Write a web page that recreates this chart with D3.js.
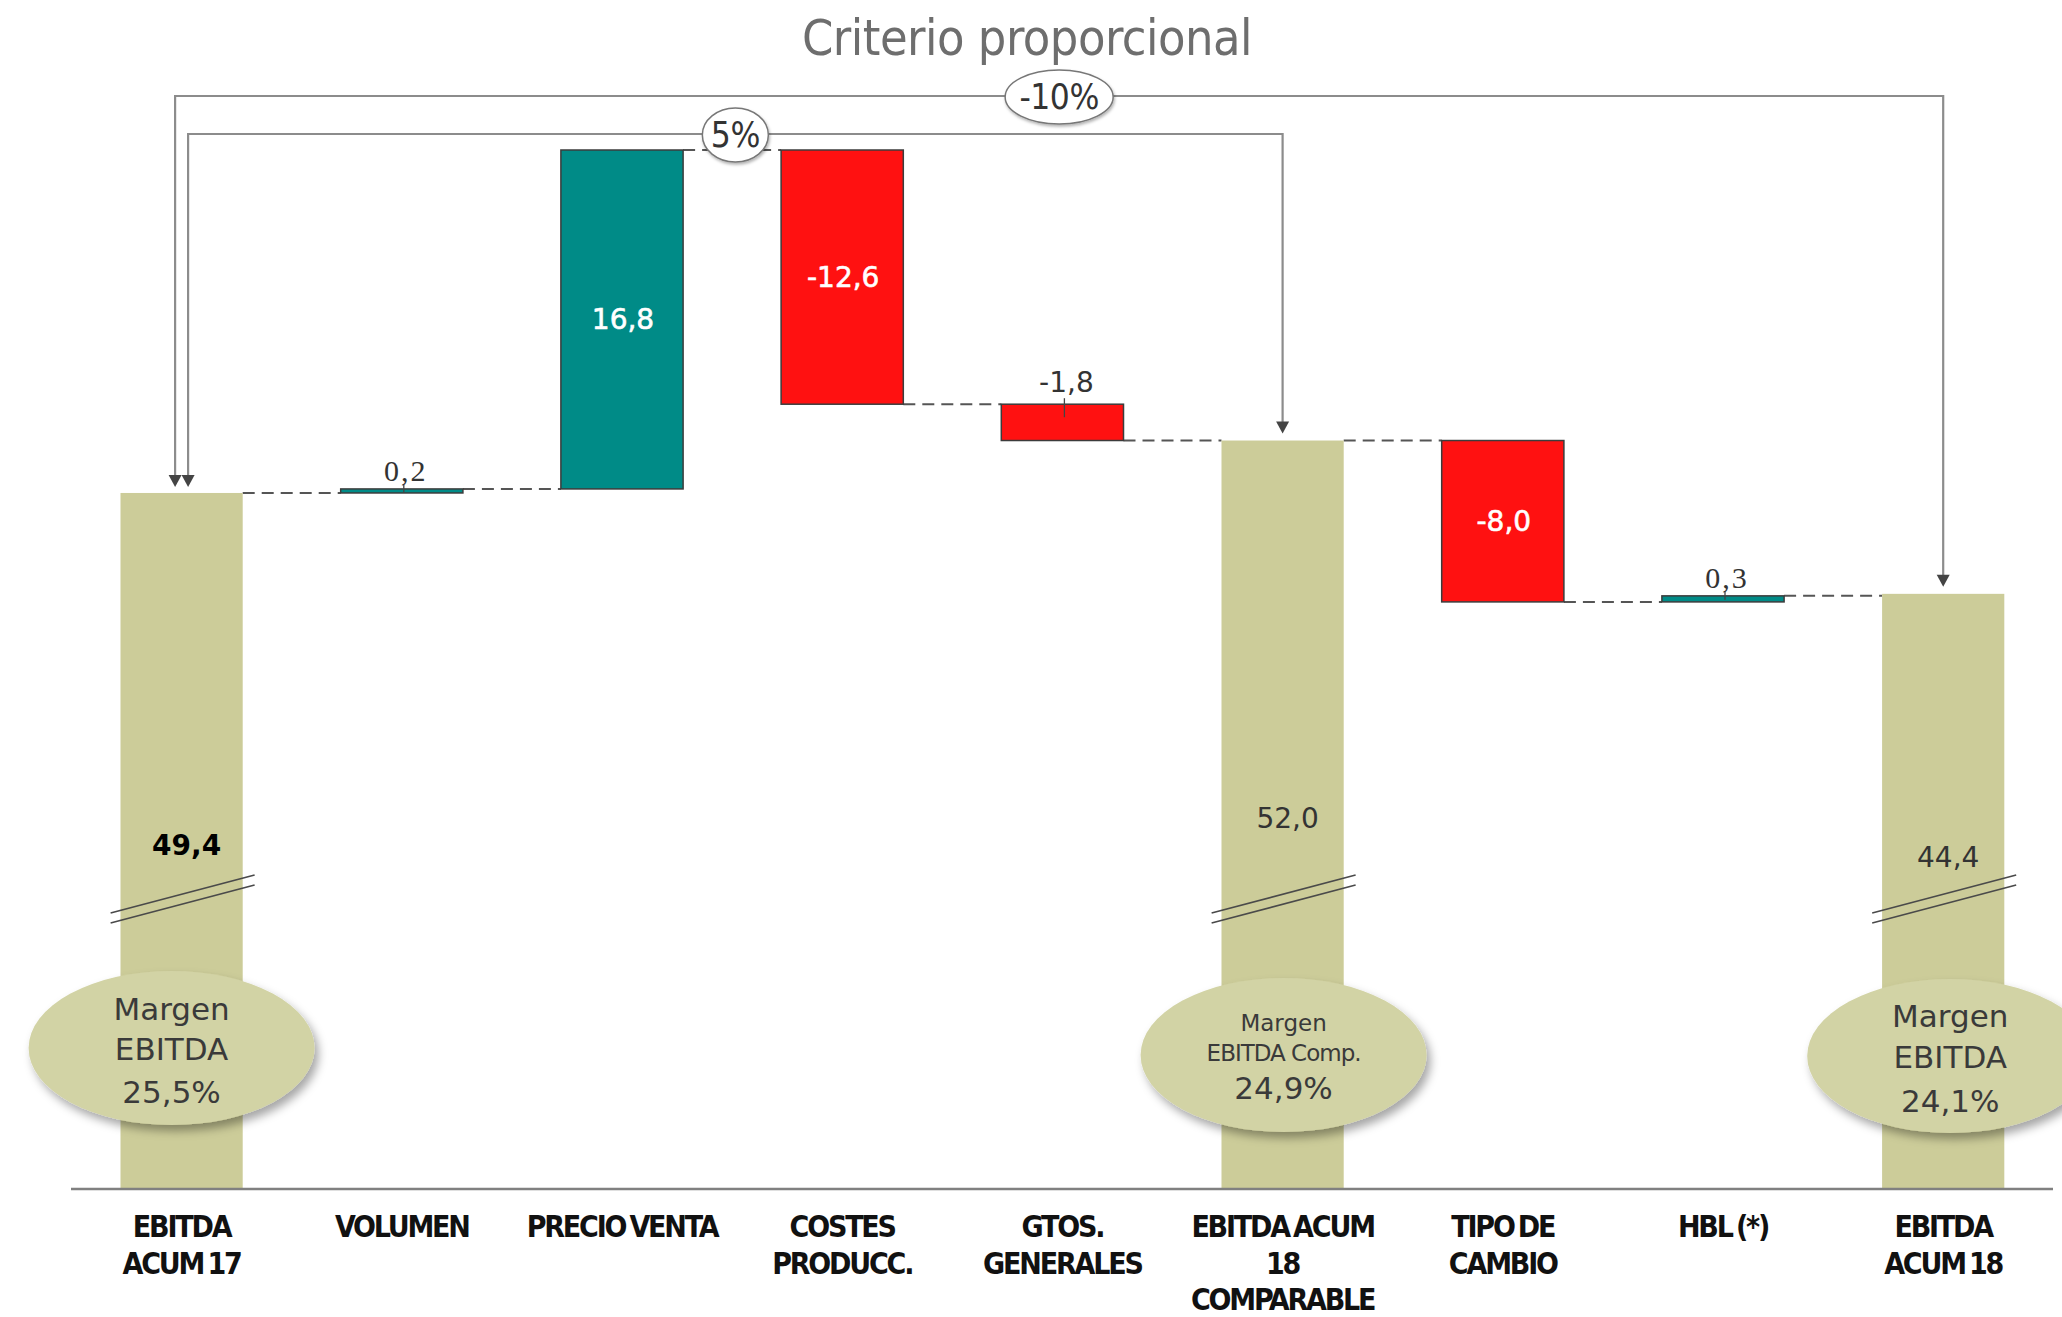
<!DOCTYPE html>
<html><head><meta charset="utf-8">
<script src="https://cdn.jsdelivr.net/npm/d3@7"></script>
<style>html,body{margin:0;padding:0;background:#fff;overflow:hidden}</style>
</head><body>
<svg id="chart" width="2062" height="1317"></svg>
<script>
// ---------- DATA ----------
const title = "Criterio proporcional";
const categories = [
  ["EBITDA", "ACUM 17"],
  ["VOLUMEN"],
  ["PRECIO VENTA"],
  ["COSTES", "PRODUCC."],
  ["GTOS.", "GENERALES"],
  ["EBITDA ACUM", "18", "COMPARABLE"],
  ["TIPO DE", "CAMBIO"],
  ["HBL (*)"],
  ["EBITDA", "ACUM 18"]
];
const values = [49.4, 0.2, 16.8, -12.6, -1.8, 52.0, -8.0, 0.3, 44.4];
const kinds = ["total", "delta", "delta", "delta", "delta", "total", "delta", "delta", "total"];
const valueLabels = ["49,4", "0,2", "16,8", "-12,6", "-1,8", "52,0", "-8,0", "0,3", "44,4"];
const marginTexts = [
  ["Margen", "EBITDA", "25,5%"],
  ["Margen", "EBITDA Comp.", "24,9%"],
  ["Margen", "EBITDA", "24,1%"]
];
const bracketFrom = [0, 0];
const bracketTo = [5, 8];
const bracketLabels = ["5%", "-10%"];

// ---------- LAYOUT ----------
const W = 2062, H = 1317;
const baseY = 1189;
const svg = d3.select("#chart");
const defs = svg.append("defs");
const sh = defs.append("filter").attr("id", "shadow").attr("x", "-20%").attr("y", "-20%").attr("width", "140%").attr("height", "150%");
sh.append("feDropShadow").attr("dx", 4).attr("dy", 6).attr("stdDeviation", 5).attr("flood-color", "#000").attr("flood-opacity", 0.35);
const sh2 = defs.append("filter").attr("id", "shadow2").attr("x", "-20%").attr("y", "-20%").attr("width", "140%").attr("height", "150%");
sh2.append("feDropShadow").attr("dx", 1).attr("dy", 2).attr("stdDeviation", 1.5).attr("flood-color", "#000").attr("flood-opacity", 0.3);

const x = d3.scaleBand().domain(d3.range(categories.length))
  .range([71.5, 2053.3]).paddingInner(0.445).paddingOuter(0.2225);
const y = d3.scaleLinear().domain([14.9, 66.4]).range([baseY, 150]);
const bw = x.bandwidth();
const cx = i => x(i) + bw / 2;

const COLORS = { total: "#cccc99", pos: "#008b87", neg: "#ff1111" };
const narrow = "'Liberation Sans Narrow', 'Arial Narrow', 'DejaVu Sans Condensed', sans-serif";
const wide = "'DejaVu Sans', Verdana, sans-serif";

// compute waterfall
let running = 0;
const bars = values.map((v, i) => {
  if (kinds[i] === "total") { running = v; return { i, lo: y.domain()[0], hi: v, level: v, type: "total", v }; }
  const s = running; running += v;
  return { i, lo: Math.min(s, running), hi: Math.max(s, running), level: running, type: v >= 0 ? "pos" : "neg", v };
});

// title
svg.append("text").attr("x", 1027).attr("y", 55).attr("text-anchor", "middle")
  .attr("font-family", narrow).attr("font-size", 50).attr("letter-spacing", -0.5)
  .attr("fill", "#6e6e6e").text(title);

// connectors
const conn = svg.append("g");
for (let i = 0; i < bars.length - 1; i++) {
  conn.append("line").attr("x1", x(i) + bw).attr("x2", x(i + 1))
    .attr("y1", y(bars[i].level)).attr("y2", y(bars[i].level))
    .attr("stroke", "#555").attr("stroke-width", 2).attr("stroke-dasharray", "12,7");
}

// bars
svg.append("g").selectAll("rect").data(bars).join("rect")
  .attr("x", d => x(d.i)).attr("width", bw)
  .attr("y", d => y(d.hi)).attr("height", d => Math.max(y(d.lo) - y(d.hi), 1))
  .attr("fill", d => COLORS[d.type])
  .attr("stroke", d => d.type === "total" ? "none" : "#3c3c3c").attr("stroke-width", 1.5);

// axis line
svg.append("line").attr("x1", 71).attr("x2", 2053).attr("y1", baseY).attr("y2", baseY)
  .attr("stroke", "#808080").attr("stroke-width", 2.5);

// break marks on totals
const totals = bars.filter(d => d.type === "total");
const brk = svg.append("g");
totals.forEach(d => {
  [0, 10].forEach(off => {
    brk.append("line").attr("x1", cx(d.i) - 71).attr("x2", cx(d.i) + 73)
      .attr("y1", 913 + off).attr("y2", 875 + off)
      .attr("stroke", "#4a4a4a").attr("stroke-width", 1.6);
  });
});

// total labels
const totalLabelY = [855, 828, 867];
totals.forEach((d, k) => {
  svg.append("text").attr("x", cx(d.i) + 5).attr("y", totalLabelY[k]).attr("text-anchor", "middle")
    .attr("font-family", wide).attr("font-size", 28)
    .attr("font-weight", k === 0 ? "bold" : "normal")
    .attr("fill", k === 0 ? "#000" : "#333").text(valueLabels[d.i]);
});

// delta labels
bars.filter(d => d.type !== "total").forEach(d => {
  const inside = Math.abs(d.v) >= 5;
  if (inside) {
    svg.append("text").attr("x", cx(d.i) + 1).attr("y", (y(d.hi) + y(d.lo)) / 2 + 10)
      .attr("text-anchor", "middle").attr("font-family", wide).attr("font-size", 28)
      .attr("fill", "#fff").attr("stroke", "#fff").attr("stroke-width", 0.6).text(valueLabels[d.i]);
  } else {
    const top = y(d.hi);
    const serif = d.v > 0;
    svg.append("text").attr("x", cx(d.i) + 4).attr("y", top - (serif ? 8 : 12))
      .attr("text-anchor", "middle")
      .attr("font-family", serif ? "'Liberation Serif', 'Times New Roman', serif" : wide)
      .attr("font-size", serif ? 30 : 28).attr("letter-spacing", serif ? 2 : 0)
      .attr("fill", "#333").text(valueLabels[d.i]);
    svg.append("line").attr("x1", cx(d.i) + 2).attr("x2", cx(d.i) + 2)
      .attr("y1", top - (serif ? 4 : 6)).attr("y2", top + (serif ? 4 : 13))
      .attr("stroke", "#444").attr("stroke-width", 1.3);
  }
});

// margin ellipses
const ellDx = [-10, 1, 7];
const ellCy = [1048, 1055, 1056];
const mSizes = [[31, 31, 31], [23, 23, 31], [31, 31, 31]];
const mBase = [[1020, 1060, 1103], [1031, 1061, 1099], [1027, 1068, 1112]];
totals.forEach((d, k) => {
  const ex = cx(d.i) + ellDx[k];
  svg.append("ellipse").attr("cx", ex).attr("cy", ellCy[k]).attr("rx", 143).attr("ry", 77)
    .attr("fill", "#d2d3a5").attr("filter", "url(#shadow)");
  marginTexts[k].forEach((t, j) => {
    svg.append("text").attr("x", ex).attr("y", mBase[k][j]).attr("text-anchor", "middle")
      .attr("font-family", wide).attr("font-size", mSizes[k][j])
      .attr("letter-spacing", (k === 1 && j === 1) ? -1 : 0)
      .attr("fill", "#3a3a3a").text(t);
  });
});

// brackets
const bracketY = [134, 96];
const bracketDx = [6.5, -6.5];
const brG = svg.append("g");
bracketLabels.forEach((lab, k) => {
  const x1 = cx(bracketFrom[k]) + bracketDx[k];
  const x2 = cx(bracketTo[k]);
  const t1 = y(values[bracketFrom[k]]) - 6;
  const t2 = y(values[bracketTo[k]]) - 7;
  const by = bracketY[k];
  brG.append("path").attr("d", `M${x1},${t1 - 11}V${by}H${x2}V${t2 - 11}`)
    .attr("fill", "none").attr("stroke", "#8c8c8c").attr("stroke-width", 2.2);
  [[x1, t1], [x2, t2]].forEach(([ax, ay]) => {
    brG.append("path").attr("d", `M${ax - 6.5},${ay - 12}L${ax + 6.5},${ay - 12}L${ax},${ay}Z`).attr("fill", "#444");
  });
  const mx = (x1 + x2) / 2;
  const rx = lab.length > 2 ? 54 : 33;
  brG.append("ellipse").attr("cx", mx).attr("cy", by + 1).attr("rx", rx).attr("ry", 27)
    .attr("fill", "#fff").attr("stroke", "#777").attr("stroke-width", 1.5).attr("filter", "url(#shadow2)");
  brG.append("text").attr("x", mx).attr("y", by + 13).attr("text-anchor", "middle")
    .attr("font-family", narrow).attr("font-size", 35).attr("letter-spacing", -0.5)
    .attr("fill", "#333").text(lab);
});

// category labels
const catG = svg.append("g");
categories.forEach((lines, i) => {
  lines.forEach((t, j) => {
    catG.append("text").attr("x", cx(i)).attr("y", 1237 + j * 36.5).attr("text-anchor", "middle")
      .attr("font-family", narrow).attr("font-size", 30).attr("font-weight", "bold")
      .attr("letter-spacing", -2.2).attr("word-spacing", -3)
      .attr("fill", "#111").text(t);
  });
});
</script>
</body></html>
